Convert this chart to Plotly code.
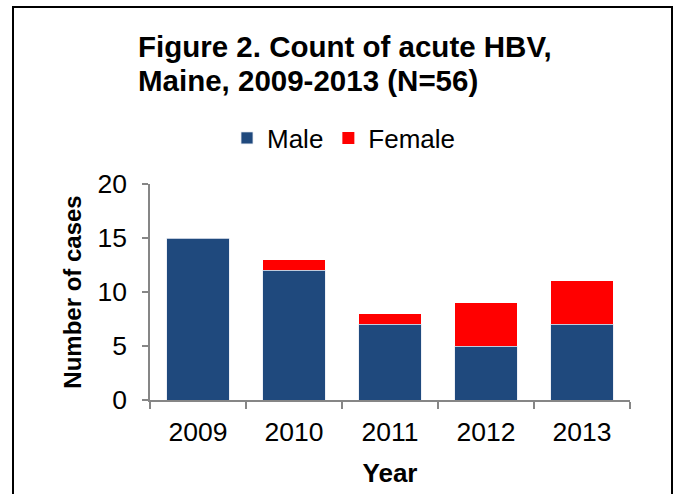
import plotly.graph_objects as go

years = ["2009", "2010", "2011", "2012", "2013"]
male = [15, 12, 7, 5, 7]
female = [0, 1, 1, 4, 4]
y_ticks = [0, 5, 10, 15, 20]

FONT = "Liberation Sans, Arial, sans-serif"
AXIS_COLOR = "#868686"

# plot area in page pixels
PL, PR, PT, PB = 150, 630, 184, 400
W, H = 673, 494


def px(xp):
    return (xp - PL) / (PR - PL)


def py(yp):
    return (PB - yp) / (PB - PT)


fig = go.Figure()
fig.add_trace(go.Bar(name="Male", x=years, y=male,
                     marker=dict(color="#1F497D", line=dict(color="#e8ecf4", width=0.8))))
fig.add_trace(go.Bar(name="Female", x=years, y=female,
                     marker=dict(color="#FF0000", line=dict(width=0))))

fig.update_layout(
    barmode="stack",
    bargap=0.354,
    width=W, height=H,
    margin=dict(l=PL, r=W - PR, t=PT, b=H - PB, autoexpand=False),
    paper_bgcolor="white", plot_bgcolor="white",
    font=dict(family=FONT, color="black"),
    showlegend=True,
    legend=dict(orientation="h", x=px(227), xanchor="left", y=py(138), yanchor="middle",
                font=dict(size=26, family=FONT), traceorder="normal",
                bgcolor="rgba(0,0,0,0)"),
    xaxis=dict(showline=True, linecolor=AXIS_COLOR, linewidth=1.5,
               ticks="outside", ticklen=7, tickcolor=AXIS_COLOR, tickwidth=1.5,
               tickson="boundaries", showgrid=False, ticklabelstandoff=7,
               tickfont=dict(size=26.5, family=FONT),
               title=dict(text="<b>Year</b>", font=dict(size=26, family=FONT), standoff=18)),
    yaxis=dict(range=[0, 20], tickvals=y_ticks, showline=True, linecolor=AXIS_COLOR,
               linewidth=1.5, ticks="outside", ticklen=6, tickcolor=AXIS_COLOR,
               tickwidth=1.5, showgrid=False, zeroline=False, ticklabelstandoff=10,
               tickfont=dict(size=26.5, family=FONT),
               title=dict(text="<b>Number of cases</b>", font=dict(size=24, family=FONT),
                          standoff=9)),
)

fig.add_annotation(text="<b>Figure 2. Count of acute HBV,</b>", xref="paper", yref="paper",
                   x=px(136), y=py(46), xanchor="left", yanchor="middle",
                   showarrow=False, font=dict(size=29.5, family=FONT, color="black"))
fig.add_annotation(text="<b>Maine, 2009-2013 (N=56)</b>", xref="paper", yref="paper",
                   x=px(136), y=py(80), xanchor="left", yanchor="middle",
                   showarrow=False, font=dict(size=29.5, family=FONT, color="black"))

fig.add_shape(type="rect", xref="paper", yref="paper",
              x0=px(13), x1=px(672), y0=py(560), y1=py(7),
              line=dict(color="black", width=2), fillcolor="rgba(0,0,0,0)", layer="above")

fig.write_html("out.html", config={"displayModeBar": False},
               post_script="document.body.style.margin='0';")
